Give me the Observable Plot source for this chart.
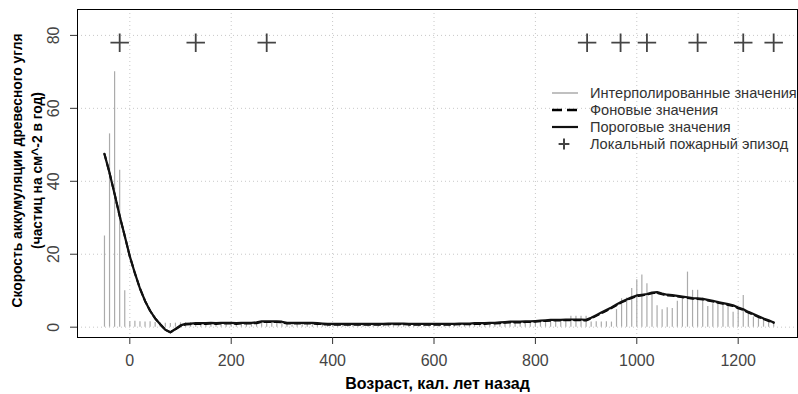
<!DOCTYPE html>
<html>
<head>
<meta charset="utf-8">
<script src="https://cdn.jsdelivr.net/npm/d3@7"></script>
<script src="https://cdn.jsdelivr.net/npm/@observablehq/plot@0.6"></script>
<style>
  html, body { margin: 0; padding: 0; background: #fff; }
  #chart { width: 798px; height: 394px; }
</style>
</head>
<body>
<div id="chart"></div>
<script>
// Ages (cal. yr BP) of the interpolated record
const ages = [-50,-40,-30,-20,-10,0,10,20,30,40,50,60,70,80,90,100,110,120,130,140,
  150,160,170,180,190,200,210,220,230,240,250,260,270,280,290,300,310,320,330,340,
  350,360,370,380,390,400,410,420,430,440,450,460,470,480,490,500,510,520,530,540,
  550,560,570,580,590,600,610,620,630,640,650,660,670,680,690,700,710,720,730,740,
  750,760,770,780,790,800,810,820,830,840,850,860,870,880,890,900,910,920,930,940,
  950,960,970,980,990,1000,1010,1020,1030,1040,1050,1060,1070,1080,1090,1100,1110,1120,1130,1140,
  1150,1160,1170,1180,1190,1200,1210,1220,1230,1240,1250,1260,1270];

// Interpolated charcoal accumulation values
const interpolated = [25,53,70,43,10,1.5,1.6,1.5,1.4,1.5,1.3,1.2,1.1,1.0,1.1,1.2,1.2,1.3,1.3,1.2,
  1.0,1.1,1.0,1.0,1.1,1.0,1.0,1.1,1.0,1.0,1.1,1.3,1.4,1.3,1.4,1.3,0.9,0.8,0.9,0.8,
  0.9,0.8,0.7,0.8,0.9,0.8,0.8,0.7,0.8,0.8,0.7,0.8,0.9,0.8,0.7,0.8,0.8,0.7,0.8,0.8,
  0.7,0.8,0.7,0.8,0.8,0.7,0.8,0.7,0.8,0.8,0.9,0.8,0.9,0.9,1.0,0.9,1.0,1.1,1.0,1.1,
  1.2,1.1,1.2,1.1,1.2,1.3,1.8,1.7,1.8,1.9,1.8,1.8,3.0,3.0,3.0,3.0,1.4,1.5,1.4,1.5,
  1.4,4.8,7.8,8.0,10.6,13,14.3,11.9,9.0,5.9,4.8,5.3,5.1,7.1,8.2,15.1,10.1,10.1,8.0,5.7,
  6.4,7.1,6.3,5.7,4.1,5.0,8.7,4.1,2.8,2.6,2.4,1.9,1.5];

// Background values
const background = [47.5,42.3,36.5,30.5,25,19.4,14.8,10.6,7.2,4.5,2.4,0.8,-0.7,-1.4,-0.6,0.3,0.7,0.8,0.9,0.9,
  0.9,1.0,0.9,1.0,1.0,1.0,0.9,1.0,1.0,1.0,1.1,1.4,1.4,1.4,1.4,1.3,1.0,1.0,1.0,1.0,
  1.0,1.0,0.9,0.8,0.7,0.7,0.7,0.7,0.7,0.7,0.7,0.7,0.7,0.7,0.7,0.7,0.8,0.8,0.8,0.8,
  0.7,0.7,0.7,0.7,0.7,0.7,0.7,0.7,0.7,0.7,0.8,0.8,0.8,0.9,0.9,0.9,1.0,1.0,1.1,1.2,
  1.3,1.3,1.3,1.4,1.4,1.5,1.6,1.7,1.8,1.8,1.8,1.9,1.9,1.9,1.9,1.8,2.4,3.1,3.8,4.5,
  5.2,6.0,6.8,7.4,8.0,8.5,8.7,8.9,9.3,9.4,9.0,8.7,8.6,8.4,8.2,8.0,7.8,7.7,7.6,7.3,
  7.0,6.7,6.4,6.1,5.8,5.2,4.7,4.0,3.4,2.8,2.2,1.7,1.2];

// Threshold values
const threshold = [47.5,42.3,36.5,30.5,25,19.4,14.8,10.6,7.2,4.5,2.4,0.8,-0.7,-1.4,-0.5,0.5,0.9,1.0,1.1,1.1,
  1.1,1.2,1.1,1.2,1.2,1.2,1.1,1.2,1.2,1.2,1.3,1.6,1.6,1.6,1.6,1.5,1.2,1.2,1.2,1.2,
  1.2,1.2,1.1,1.0,0.9,0.9,0.9,0.9,0.9,0.9,0.9,0.9,0.9,0.9,0.9,0.9,1.0,1.0,1.0,1.0,
  0.9,0.9,0.9,0.9,0.9,0.9,0.9,0.9,0.9,0.9,1.0,1.0,1.0,1.1,1.1,1.1,1.2,1.2,1.3,1.4,
  1.5,1.5,1.5,1.6,1.6,1.7,1.8,1.9,2.0,2.0,2.0,2.1,2.1,2.1,2.1,2.0,2.6,3.3,4.0,4.7,
  5.4,6.2,7.0,7.6,8.2,8.7,8.9,9.1,9.5,9.6,9.2,8.9,8.8,8.6,8.4,8.2,8.0,7.9,7.8,7.5,
  7.2,6.9,6.6,6.3,6.0,5.4,4.9,4.2,3.6,3.0,2.4,1.9,1.3];

// Local fire episodes (ages) and the level where they are marked
const fireAges = [-20, 130, 270, 902, 968, 1020, 1120, 1210, 1270];
const fireLevel = 78;

// Tick labels
const xTicks = [0, 200, 400, 600, 800, 1000, 1200];
const yTicks = [0, 20, 40, 60, 80];

const legendLabels = ["Интерполированные значения", "Фоновые значения", "Пороговые значения", "Локальный пожарный эпизод"];
const xTitle = "Возраст, кал. лет назад";
const yTitle1 = "Скорость аккумуляции древесного угля";
const yTitle2 = "(частиц на см^-2 в год)";

const rows = ages.map((a, i) => ({age: a, interp: interpolated[i], bg: background[i], thr: threshold[i]}));
const fires = fireAges.map(a => ({age: a, y: fireLevel}));

const FONT = "'Liberation Sans', Arial, sans-serif";

const chart = Plot.plot({
  width: 798,
  height: 394,
  marginLeft: 77,
  marginRight: 1,
  marginTop: 9,
  marginBottom: 57,
  style: {fontFamily: FONT, fontSize: "15px", background: "#fff", color: "#000"},
  x: {domain: [-103.2, 1317]},
  y: {domain: [-2.83, 87.1]},
  marks: [
    Plot.gridX(xTicks, {stroke: "#c8c8c8", strokeOpacity: 1, strokeDasharray: "1,3"}),
    Plot.gridY(yTicks, {stroke: "#c8c8c8", strokeOpacity: 1, strokeDasharray: "1,3"}),
    Plot.ruleX(rows, {x: "age", y1: 0, y2: "interp", stroke: "#ababab", strokeWidth: 1.2}),
    Plot.line(rows, {x: "age", y: "bg", stroke: "#000", strokeWidth: 2, strokeDasharray: "6,4"}),
    Plot.line(rows, {x: "age", y: "thr", stroke: "#111", strokeWidth: 2.2}),
    Plot.dot(fires, {x: "age", y: "y", symbol: "plus", r: 6, stroke: "#444", strokeWidth: 1.8}),
    Plot.frame({stroke: "#000", strokeWidth: 1}),
    Plot.axisX({ticks: xTicks, tickFormat: d3.format("d"), tickSize: 7, tickPadding: 10, fill: "#444", fontSize: 16, label: null, stroke: "#333"}),
    Plot.axisY({ticks: yTicks, tickFormat: d3.format("d"), tickSize: 7, tickPadding: 12, tickRotate: -90, fill: "#444", fontSize: 16, label: null, stroke: "#333"}),
    Plot.text([xTitle], {frameAnchor: "bottom", dy: 46, lineAnchor: "middle", textAnchor: "middle", fontWeight: "bold", fontSize: 16, fill: "#000"}),
    Plot.text([yTitle1], {frameAnchor: "left", dx: -60, dy: -3, rotate: -90, lineAnchor: "middle", textAnchor: "middle", fontWeight: "bold", fontSize: 13.8, fill: "#000"}),
    Plot.text([yTitle2], {frameAnchor: "left", dx: -40, dy: -3, rotate: -90, lineAnchor: "middle", textAnchor: "middle", fontWeight: "bold", fontSize: 13.8, fill: "#000"})
  ]
});

document.getElementById("chart").appendChild(chart);

// Legend inside the plot area
const svg = d3.select(chart);
const lg = svg.append("g").attr("transform", "translate(552,93)").attr("font-family", FONT).attr("text-anchor", "start");
const step = 17;
legendLabels.forEach((lab, i) => {
  const g = lg.append("g").attr("transform", `translate(0,${i * step})`);
  if (i === 0) g.append("line").attr("x1", 0).attr("x2", 26).attr("stroke", "#ababab").attr("stroke-width", 1.5);
  if (i === 1) g.append("line").attr("x1", 0).attr("x2", 26).attr("stroke", "#000").attr("stroke-width", 2.5).attr("stroke-dasharray", "10,5");
  if (i === 2) g.append("line").attr("x1", 0).attr("x2", 26).attr("stroke", "#111").attr("stroke-width", 2.2);
  if (i === 3) g.append("path").attr("d", d3.symbol(d3.symbolPlus, 40)()).attr("transform", "translate(12,0)").attr("fill", "none").attr("stroke", "#444").attr("stroke-width", 2);
  g.append("text").attr("x", 38).attr("dy", "0.35em").attr("font-size", 14.6).attr("fill", "#333").attr("text-anchor", "start").text(lab);
});
</script>
</body>
</html>
